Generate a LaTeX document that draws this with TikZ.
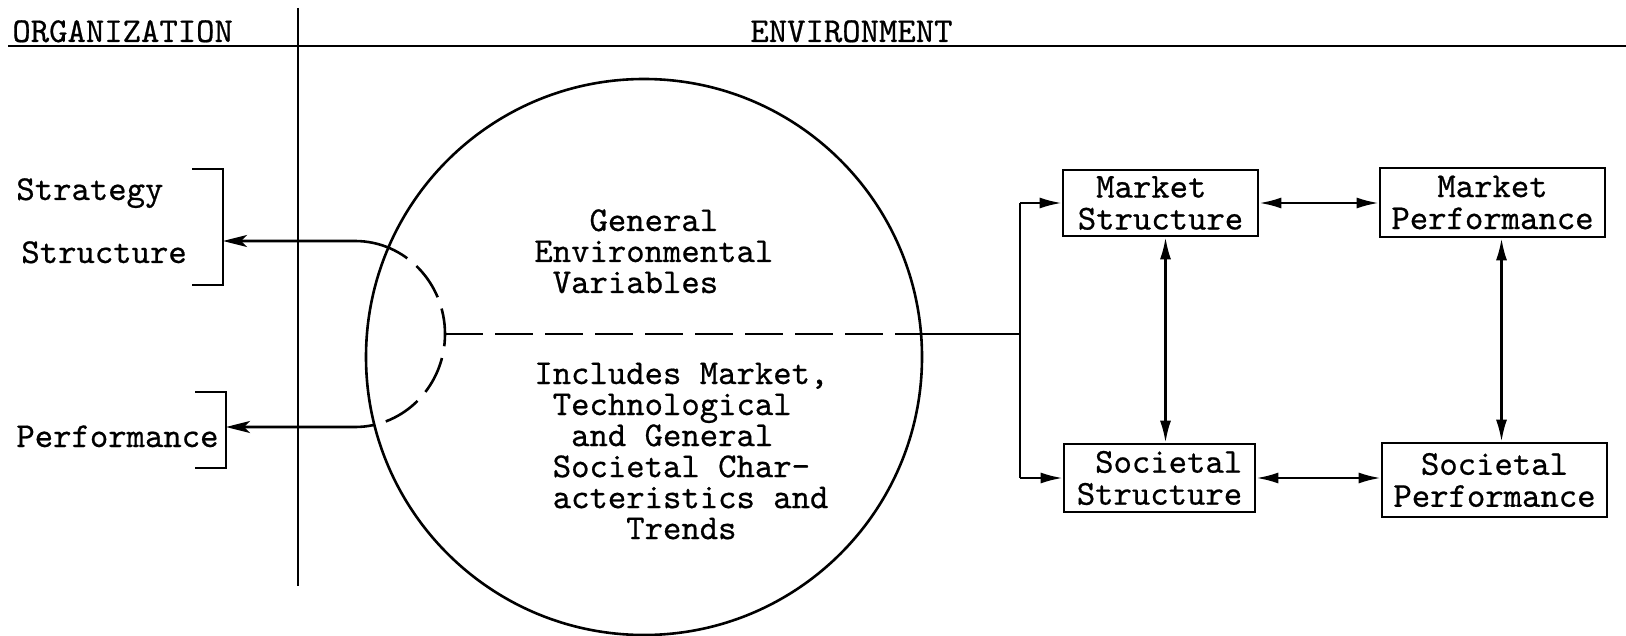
\documentclass[tikz,border=0pt]{standalone}
\usepackage{fontspec}
\setmonofont{lmmono10-regular.otf}[FakeBold=0.6]
\usetikzlibrary{arrows.meta}
\newcommand{\ind}[1]{\hphantom{#1}}
\begin{document}
\begin{tikzpicture}[x=0.5pt,y=-0.5pt,
  txt/.style={font=\ttfamily\fontsize{17.5}{15.5}\selectfont, inner sep=0pt, anchor=base west},
  box/.style={draw, line width=1.3pt, inner sep=0pt, font=\ttfamily\fontsize{17.5}{16}\selectfont},
  ln/.style={line width=1.3pt},
  dashln/.style={line width=1.3pt, dash pattern=on 19pt off 6pt},
  arr/.style={line width=1.2pt, -{Latex[length=11pt,width=5.5pt]}},
  dbl/.style={line width=1.2pt, {Latex[length=11pt,width=5.5pt]}-{Latex[length=11pt,width=5.5pt]}},
  larr/.style={line width=1.3pt, {Stealth[length=12pt,width=6pt,inset=3pt]}-{Stealth[length=12pt,width=6pt,inset=3pt]}}
]
\fill[white] (0,0) rectangle (1626,636);
\useasboundingbox (0,0) rectangle (1626,636);

% header and divider
\node[txt] (org) at (12,42) {ORGANIZATION};
\node[txt] (envh) at (750,42) {ENVIRONMENT};
\coordinate (hl) at (8,46);
\coordinate (hr) at (1626,46);
\draw[line width=1.2pt] (hl) -- (hr);
\coordinate (vt) at (298,8);
\coordinate (vb) at (298,586);
\draw[line width=1pt] (vt) -- (vb);

% organization labels and brackets
\node[txt] (strat) at (16,200) {Strategy};
\node[txt] (struc) at (21,263) {Structure};
\node[txt] (perf) at (16,447) {Performance};
\draw[ln] (192,169) -- (223,169) -- (223,285) -- (192,285);
\draw[ln] (195,392) -- (226,392) -- (226,468) -- (195,468);
\coordinate (b1) at (223,241);
\coordinate (b2) at (226,427);

% environment circle
\node[draw, circle, line width=1.3pt, minimum size=278pt, inner sep=0pt] (env) at (644,357) {};
\node[txt] (gen) at (534,231) {\begin{tabular}[t]{@{}l@{}}
\ind{xxx}General\\
Environmental\\
\ind{x}Variables
\end{tabular}};
\node[txt] (inc) at (534,384) {\begin{tabular}[t]{@{}l@{}}
Includes Market,\\
\ind{x}Technological\\
\ind{xx}and General\\
\ind{x}Societal Char-\\
\ind{x}acteristics and\\
\ind{xxxxx}Trends
\end{tabular}};

% boxes
\node[box, minimum width=97.5pt, minimum height=33pt, align=left] (ms) at (1160.5,203) {\ind{M}Market\\Structure};
\node[box, minimum width=112.5pt, minimum height=34.5pt, align=center] (mp) at (1492.5,202.5) {Market\\Performance};
\node[box, minimum width=95.5pt, minimum height=34pt, align=right] (ss) at (1159.5,478) {Societal\\Structure};
\node[box, minimum width=112.5pt, minimum height=37pt, align=center] (sp) at (1494.5,480) {Societal\\Performance};

% junction
\coordinate (dc) at (445,334);
\coordinate (jm) at (1020,334);

% parts outside the circle: solid
\begin{scope}
  \clip (0,0) -- (1626,0) -- (1626,636) -- (0,636) -- cycle (644,79) arc[start angle=90,end angle=450,radius=139pt];
  \draw[larr] (b1) -- (355,241) .. controls (405,241) and (445,283) .. (dc) .. controls (445,385) and (405,427) .. (355,427) -- (b2);
  \draw[ln] (dc) -- (jm);
\end{scope}
% parts inside the circle: dashed
\begin{scope}
  \clip (env.center) circle[radius=139pt];
  \draw[dashln] (b1) -- (355,241) .. controls (405,241) and (445,283) .. (dc) .. controls (445,385) and (405,427) .. (355,427) -- (b2);
  \draw[dashln] (dc) -- (jm);
\end{scope}

% feed to structure boxes
\draw[ln] (jm |- ms.west) -- (jm |- ss.west);
\draw[arr] (jm |- ms.west) -- (ms.west);
\draw[arr] (jm |- ss.west) -- (ss.west);

% relations among boxes
\draw[dbl] (ms.east) -- (ms.east -| mp.west);
\draw[dbl] (ss.east) -- (ss.east -| sp.west);
\draw[dbl] ([xshift=2.5pt]ms.south) -- ([xshift=2.5pt]ms.south |- ss.north);
\draw[dbl] ([xshift=4.5pt]mp.south) -- ([xshift=4.5pt]mp.south |- sp.north);
\end{tikzpicture}
\end{document}
